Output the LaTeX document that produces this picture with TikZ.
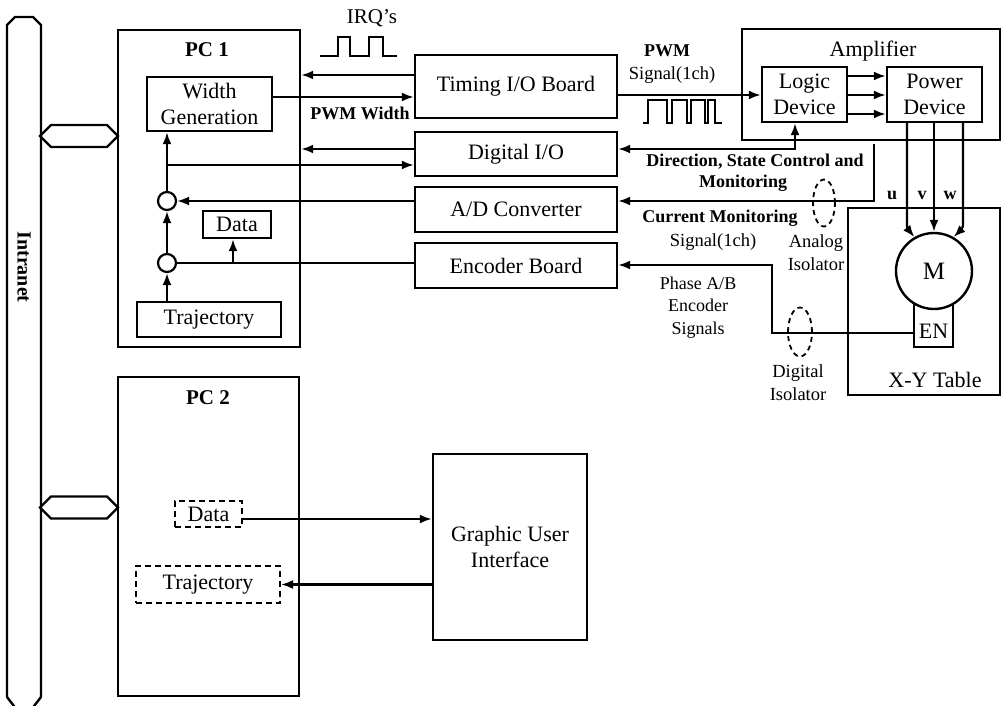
\documentclass[tikz,border=0pt]{standalone}
\usepackage{fontspec}
\setmainfont{Liberation Serif}
\usetikzlibrary{arrows.meta,shapes.symbols,shapes.geometric}
\newcommand\bxf{\fontsize{22}{26}\selectfont}
\newcommand\lbf{\fontsize{18.5}{23}\selectfont}
\newcommand\blbf{\fontsize{18}{22.5}\selectfont\bfseries}
\begin{document}
\begin{tikzpicture}[x=1pt,y=-1pt,
  box/.style={draw,line width=2.4pt,inner sep=0pt,align=center,font=\bxf},
  dbox/.style={box,line width=2pt,dash pattern=on 6pt off 4pt},
  arr/.style={line width=2.2pt,-{Latex[length=12pt,width=9pt]}},
  twoarr/.style={line width=2.2pt,{Latex[length=12pt,width=9pt]}-{Latex[length=12pt,width=9pt]}},
  wire/.style={line width=2.2pt},
  lbl/.style={font=\lbf,align=center,inner sep=0pt},
  blbl/.style={font=\blbf,align=center,inner sep=0pt},
  iso/.style={draw,ellipse,line width=1.8pt,dash pattern=on 5pt off 4pt,inner sep=0pt},
  sig/.style={draw,signal,signal to=east and west,line width=2.4pt,
    minimum width=78pt,minimum height=22pt,inner sep=0pt},
  junc/.style={draw,circle,line width=2.2pt,minimum size=18pt,inner sep=0pt}]
\useasboundingbox (0,0) rectangle (1002,706);

% network backbone
\draw[line width=2.4pt] (15,17) -- (33,17) -- (41,25) -- (41,697) -- (31,710) -- (17,710)
  -- (7,697) -- (7,25) -- cycle;
\node[rotate=-90,font=\fontsize{20}{24}\selectfont\bfseries,inner sep=0pt]
  (net) at (24,267) {Intranet};
\node[sig] (lan1) at (79,136) {};
\node[sig] (lan2) at (79,507.5) {};

% PC 1
\node[box,minimum width=182pt,minimum height=317pt] (pc1) at (209,188.5) {};
\node[font=\fontsize{21}{25}\selectfont\bfseries,inner sep=0pt] (pc1t) at (207,50) {PC 1};
\node[box,minimum width=125pt,minimum height=54pt] (wg) at (209.5,104) {Width\\Generation};
\node[junc] (c1) at (167,201) {};
\node[junc] (c2) at (167,263) {};
\node[box,minimum width=68pt,minimum height=27pt] (data) at (237,224.5) {Data};
\node[box,minimum width=144pt,minimum height=35pt] (traj) at (209,319.5) {Trajectory};

% I/O boards
\node[box,minimum width=202pt,minimum height=63pt] (tim) at (516,86.5) {Timing I/O Board};
\node[box,minimum width=202pt,minimum height=44pt] (dig) at (516,154) {Digital I/O};
\node[box,minimum width=202pt,minimum height=45pt] (ad) at (516,209.5) {A/D Converter};
\node[box,minimum width=202pt,minimum height=45pt] (enc) at (516,265.5) {Encoder Board};

% amplifier
\node[box,minimum width=258pt,minimum height=111pt] (amp) at (871,84.5) {};
\node[font=\bxf,inner sep=0pt] (ampt) at (873,51) {Amplifier};
\node[box,minimum width=85pt,minimum height=55pt] (logic) at (804.5,94.5) {Logic\\Device};
\node[box,minimum width=95pt,minimum height=55pt] (pow) at (934.5,94.5) {Power\\Device};

% X-Y table with motor and encoder
\node[box,minimum width=152pt,minimum height=187pt] (xy) at (924,301.5) {};
\node[font=\bxf,inner sep=0pt] (xyt) at (935,380) {X-Y Table};
\node[draw,line width=2.4pt,font=\bxf,anchor=south,minimum width=39pt,
  inner sep=4pt,text height=33pt,text depth=4pt] (en) at (933.5,348) {EN};
\node[draw,circle,line width=2.4pt,fill=white,minimum size=76pt,inner sep=0pt,
  font=\fontsize{25}{30}\selectfont] (mot) at (934,271) {M};

% PC 2
\node[box,minimum width=181pt,minimum height=319pt] (pc2) at (208.5,536.5) {};
\node[font=\fontsize{21}{25}\selectfont\bfseries,inner sep=0pt] (pc2t) at (208,398) {PC 2};
\node[dbox,minimum width=67pt,minimum height=26pt] (data2) at (208.5,514) {Data};
\node[dbox,minimum width=144pt,minimum height=37pt] (traj2) at (208,584.5) {Trajectory};
\node[box,minimum width=154pt,minimum height=186pt] (gui) at (510,547) {Graphic User\\Interface};

% PC 1 internal flow
\draw[arr] (c1.north) -- (c1 |- wg.south);
\draw[arr] (c2.north) -- (c1.south);
\draw[arr] (c2 |- traj.north) -- (c2.south);
\coordinate (br) at (233,263);
\draw[wire] (enc.west |- c2) -- (c2.east);
\draw[arr] (br) -- (br |- data.south);
\draw[arr] (ad.west |- c1) -- (c1.east);

% PC 1 <-> boards
\draw[arr] (tim.west |- 0,75) -- (pc1.east |- 0,75);
\draw[arr] (wg.east |- 0,97) -- (tim.west |- 0,97);
\draw[arr] (dig.west |- 0,149) -- (pc1.east |- 0,149);
\draw[arr] (c1 |- 0,165) -- (dig.west |- 0,165);

% boards <-> amplifier / table
\draw[arr] (tim.east |- 0,95) -- (logic.west |- 0,95);
\foreach \yy in {76,95,114}
  \draw[arr] (logic.east |- 0,\yy) -- (pow.west |- 0,\yy);
\draw[twoarr] (dig.east |- 0,149) -| (logic.south -| 795,0);
\draw[arr] ([yshift=-3pt]amp.south -| 874,0) |- (ad.east |- c1);
\draw[arr] (en.west |- 0,333) -- (772,333) |- (enc.east |- 0,265);

% motor phases
\draw[arr] (pow.south -| 907,0) -- (907,214) .. controls (907,228) .. (mot.120);
\draw[arr] (pow.south -| 934,0) -- (mot.north);
\draw[arr] (pow.south -| 963,0) -- (963,214) .. controls (963,228) .. (mot.60);

% PC 2 <-> GUI
\draw[arr] (data2.east |- 0,519) -- (gui.west |- 0,519);
\draw[arr] (gui.west |- traj2) -- (traj2.east);

% isolators
\node[iso,minimum width=22pt,minimum height=47pt] (aiso) at (824,203) {};
\node[iso,minimum width=24pt,minimum height=49pt] (diso) at (800,332) {};

% waveforms
\draw[line width=2pt] (320,56) -- (338,56) -- (338,37) -- (350,37) -- (350,56)
  -- (369,56) -- (369,37) -- (383,37) -- (383,56) -- (397,56);
\draw[line width=2pt] (643,123) -- (648,123) -- (648,100) -- (667,100) -- (667,123)
  -- (672,123) -- (672,100) -- (687,100) -- (687,123) -- (691,123) -- (691,100)
  -- (705,100) -- (705,123) -- (708,123) -- (708,100) -- (715,100) -- (715,123)
  -- (722,123);

% signal labels
\node[font=\fontsize{21}{25}\selectfont,inner sep=0pt] (irq) at (372,18) {IRQ's};
\node[blbl] (pwmw) at (360,113) {PWM Width};
\node[blbl] (pwm1) at (667,51) {PWM};
\node[lbl] (pwm2) at (672,75) {Signal(1ch)};
\node[blbl] (dir1) at (755,162) {Direction, State Control and};
\node[blbl] (dir2) at (743,183) {Monitoring};
\node[blbl] (cur1) at (720,218) {Current Monitoring};
\node[lbl] (cur2) at (713,242) {Signal(1ch)};
\node[lbl] (aisot) at (816,253) {Analog\\Isolator};
\node[lbl,font=\fontsize{18}{22.5}\selectfont] (phase) at (698,307.5) {Phase A/B\\Encoder\\Signals};
\node[lbl] (disot) at (798,383) {Digital\\Isolator};
\node[blbl] (u) at (892,195) {u};
\node[blbl] (v) at (922,195) {v};
\node[blbl] (w) at (950,195) {w};
\end{tikzpicture}
\end{document}
